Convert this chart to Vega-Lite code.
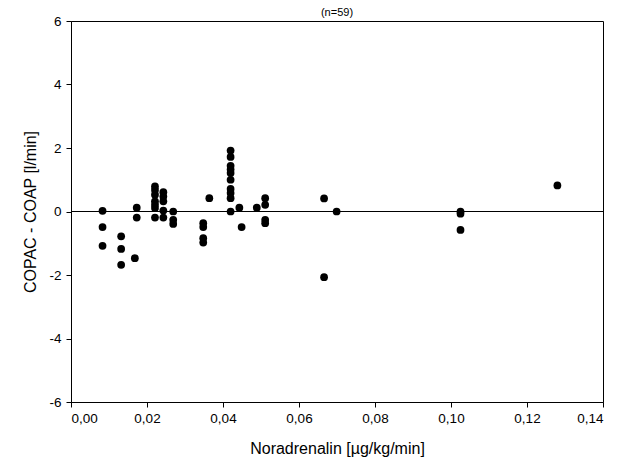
{
  "$schema": "https://vega.github.io/schema/vega-lite/v6.json",
  "autosize": "none",
  "padding": {"left": 71, "top": 21, "right": 15, "bottom": 68},
  "width": 532,
  "height": 381,
  "background": "white",
  "title": {"text": "(n=59)", "fontSize": 11, "fontWeight": "normal", "font": "Liberation Sans", "color": "black", "offset": -4, "anchor": "middle"},
  "config": {
    "view": {"stroke": "black", "strokeWidth": 1},
    "axis": {"grid": false, "domainColor": "black", "tickColor": "black", "labelColor": "black", "titleColor": "black", "labelFont": "Liberation Sans", "titleFont": "Liberation Sans", "labelFontSize": 13.5, "titleFontSize": 16, "titleFontWeight": "normal", "tickSize": 5}
  },
  "data": {"values": [
    {"x": 0.0083, "y": 0.02}, {"x": 0.0083, "y": -0.49}, {"x": 0.0083, "y": -1.08},
    {"x": 0.0132, "y": -0.78}, {"x": 0.0132, "y": -1.18}, {"x": 0.0132, "y": -1.68},
    {"x": 0.0168, "y": -1.47}, {"x": 0.0173, "y": 0.12}, {"x": 0.0173, "y": -0.19},
    {"x": 0.0221, "y": 0.79}, {"x": 0.0221, "y": 0.68}, {"x": 0.0221, "y": 0.53}, {"x": 0.0221, "y": 0.32}, {"x": 0.0221, "y": 0.21}, {"x": 0.0221, "y": 0.11}, {"x": 0.0221, "y": -0.19},
    {"x": 0.0243, "y": 0.61}, {"x": 0.0243, "y": 0.47}, {"x": 0.0243, "y": 0.32}, {"x": 0.0243, "y": 0.03}, {"x": 0.0243, "y": -0.19},
    {"x": 0.0269, "y": 0.0}, {"x": 0.0269, "y": -0.26}, {"x": 0.0269, "y": -0.39},
    {"x": 0.0348, "y": -0.37}, {"x": 0.0348, "y": -0.49}, {"x": 0.0348, "y": -0.84}, {"x": 0.0348, "y": -0.98},
    {"x": 0.0364, "y": 0.42},
    {"x": 0.042, "y": 1.92}, {"x": 0.042, "y": 1.72}, {"x": 0.042, "y": 1.44}, {"x": 0.042, "y": 1.32}, {"x": 0.042, "y": 1.21}, {"x": 0.042, "y": 1.0}, {"x": 0.042, "y": 0.71}, {"x": 0.042, "y": 0.58}, {"x": 0.042, "y": 0.42}, {"x": 0.042, "y": 0.0},
    {"x": 0.0443, "y": 0.12}, {"x": 0.0449, "y": -0.49}, {"x": 0.0489, "y": 0.12},
    {"x": 0.0511, "y": 0.42}, {"x": 0.0511, "y": 0.21}, {"x": 0.0511, "y": -0.26}, {"x": 0.0511, "y": -0.37},
    {"x": 0.0666, "y": 0.41}, {"x": 0.0666, "y": -2.07}, {"x": 0.0699, "y": 0.0},
    {"x": 0.1025, "y": 0.0}, {"x": 0.1025, "y": -0.07}, {"x": 0.1025, "y": -0.58},
    {"x": 0.128, "y": 0.82}
  ]},
  "layer": [
    {
      "mark": {"type": "rule", "color": "black", "strokeWidth": 1},
      "data": {"values": [{"z": 0}]},
      "encoding": {"y": {"field": "z", "type": "quantitative", "scale": {"domain": [-6, 6]}}}
    },
    {
      "mark": {"type": "point", "filled": true, "color": "black", "opacity": 1, "size": 60},
      "encoding": {
        "x": {"field": "x", "type": "quantitative", "scale": {"domain": [0, 0.14], "nice": false, "zero": false}, "axis": {"values": [0, 0.02, 0.04, 0.06, 0.08, 0.1, 0.12, 0.14], "labelExpr": "replace(format(datum.value, '.2f'), '.', ',')", "title": "Noradrenalin [µg/kg/min]", "labelPadding": 4, "titlePadding": 16}},
        "y": {"field": "y", "type": "quantitative", "scale": {"domain": [-6, 6], "nice": false}, "axis": {"values": [-6, -4, -2, 0, 2, 4, 6], "labelExpr": "'' + datum.value", "title": "COPAC - COAP [l/min]", "labelPadding": 5, "titlePadding": 10}}
      }
    }
  ]
}
